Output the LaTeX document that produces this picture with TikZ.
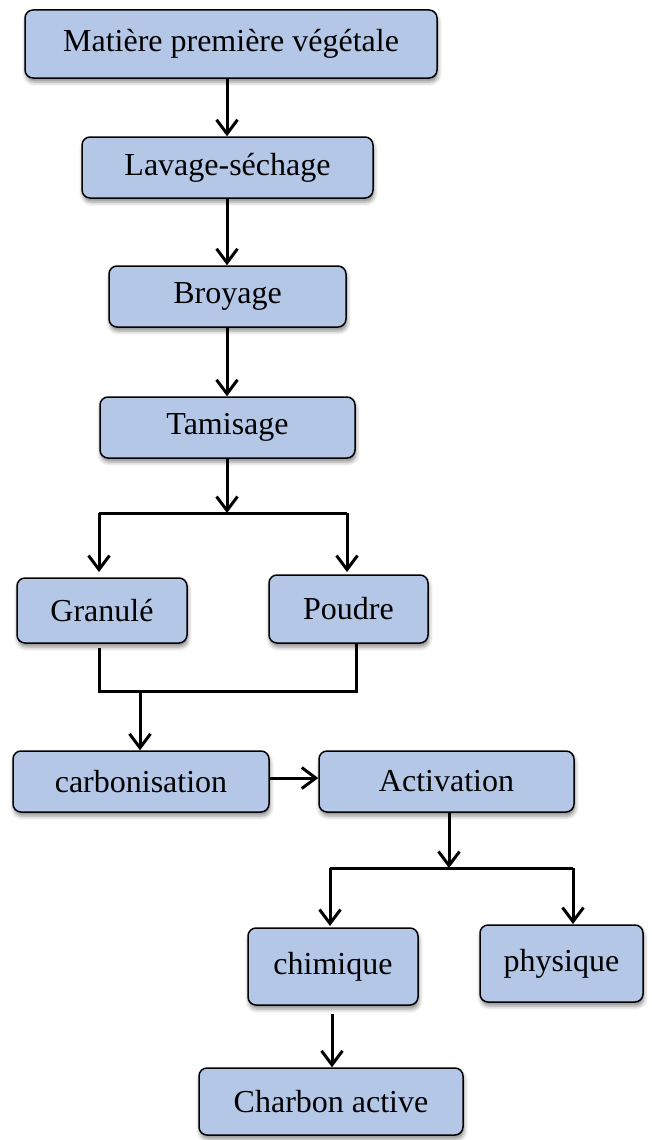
\documentclass[tikz,border=0pt]{standalone}
\usepackage{fontspec}
\setmainfont{Liberation Serif}
\usetikzlibrary{arrows.meta,shadows.blur}
\definecolor{boxfill}{HTML}{B4C7E7}
\tikzset{
  stepbox/.style={draw=black, line width=1.5pt, fill=boxfill, rounded corners=8pt,
    inner sep=0pt, align=center, font=\fontsize{32}{38}\selectfont,
    blur shadow={shadow xshift=1pt, shadow yshift=-4pt, shadow blur radius=4pt, shadow opacity=45}},
  conn/.style={line width=3pt, black},
  arr/.style={conn, -{Straight Barb[length=14pt,width=21pt]}}
}
\begin{document}
\begin{tikzpicture}[x=1pt,y=-1pt]
\useasboundingbox (0,0) rectangle (651,1140);
\node[stepbox, minimum width=412pt, minimum height=68pt] (mat) at (231,44) {Matière première végétale};
\node[stepbox, minimum width=291pt, minimum height=61pt] (lav) at (227.5,167.5) {Lavage-séchage};
\node[stepbox, minimum width=237pt, minimum height=61pt] (broy) at (227.5,296.5) {Broyage};
\node[stepbox, minimum width=255pt, minimum height=61pt] (tam) at (227.5,427.5) {Tamisage};
\node[stepbox, minimum width=170pt, minimum height=65pt] (gran) at (102,610.5) {Granulé};
\node[stepbox, minimum width=159pt, minimum height=68pt] (poud) at (348.5,609) {Poudre};
\node[stepbox, minimum width=256pt, minimum height=61pt] (carb) at (141,781.5) {carbonisation};
\node[stepbox, minimum width=255pt, minimum height=61pt] (act) at (446.5,781.5) {Activation};
\node[stepbox, minimum width=170pt, minimum height=77pt] (chim) at (333,966.5) {chimique};
\node[stepbox, minimum width=163pt, minimum height=77pt] (phys) at (561.5,963.5) {physique};
\node[stepbox, minimum width=264pt, minimum height=67pt] (charb) at (331,1101.5) {Charbon active};

% junction coordinates
\coordinate (j1) at (227,513);
\coordinate (j1l) at (99,513);
\coordinate (j1r) at (347,513);
\coordinate (g1) at (99,572);
\coordinate (p1) at (347,572);
\coordinate (gb) at (99,648);
\coordinate (gbb) at (99,691);
\coordinate (pbb) at (356,691);
\coordinate (pb) at (356,643);
\coordinate (m1) at (140,691);
\coordinate (j2) at (449,868);
\coordinate (j2l) at (330,868);
\coordinate (j2r) at (573,868);
\coordinate (c1) at (330,926);
\coordinate (f1) at (573,924);

\draw[arr] (227,78) -- (lav.north -| 227,0);
\draw[arr] (lav.south -| 227,0) -- (broy.north -| 227,0);
\draw[arr] (broy.south -| 227,0) -- (tam.north -| 227,0);
\draw[arr] (tam.south -| 227,0) -- (j1);
\draw[conn] (j1l) -- (j1r);
\draw[arr] (j1l) -- (g1);
\draw[arr] (j1r) -- (p1);
\draw[conn] (gb) -- (gbb) -- (pbb) -- (pb);
\draw[arr] (m1) -- (carb.north -| m1);
\draw[arr] (carb.east |- 0,778) -- (act.west |- 0,778);
\draw[arr] (act.south -| j2) -- (j2);
\draw[conn] (j2l) -- (j2r);
\draw[arr] (j2l) -- (c1);
\draw[arr] (j2r) -- (f1);
\draw[arr] (chim.south -| 332,0) ++(0,8) -- (charb.north -| 332,0);
\end{tikzpicture}
\end{document}
